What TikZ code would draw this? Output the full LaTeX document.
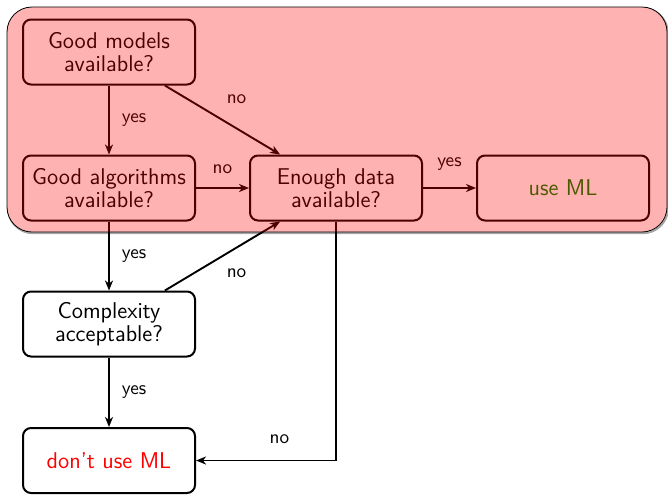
\documentclass[tikz,border=0pt]{standalone}
\usetikzlibrary{arrows.meta}
\begin{document}
\begin{tikzpicture}[x=0.5pt,y=-0.5pt,
  box/.style={draw, line width=1pt, rounded corners=4pt, minimum width=86pt, minimum height=32.5pt,
    align=center, inner sep=0pt, font=\fontsize{11.4}{11.8}\selectfont\sffamily},
  arr/.style={-{Stealth[length=5pt,width=4pt,inset=1.5pt]}, line width=0.95pt},
  lbl/.style={font=\fontsize{9.6}{11}\selectfont\sffamily, inner sep=1pt},
  panel/.style={rounded corners=12.5pt}]
\useasboundingbox (0,0) rectangle (668,494);
% shadow of the highlighted area
\draw[panel, draw=black!35, line width=1pt] (8,8.2) rectangle (668,233.2);
\fill[panel, white] (7,7) rectangle (667,232);
% nodes
\node[box] (gm) at (109,52) {Good models\\available?};
\node[box] (ga) at (109,188) {Good algorithms\\available?};
\node[box] (ed) at (336,188) {Enough data\\available?};
\node[box, text=green!50!black] (use) at (563,188) {use ML};
\node[box] (cx) at (109,324) {Complexity\\acceptable?};
\node[box, text=red] (dont) at (109,460.5) {don't use ML};
% connectors
\draw[arr] (gm) -- node[lbl, right=5pt] {yes} (ga);
\draw[arr] (gm) -- node[lbl, xshift=7pt, yshift=10.25pt] {no} (ed);
\draw[arr] (ga) -- node[lbl, above=5.5pt] {no} (ed);
\draw[arr] (ed) -- node[lbl, above=7.5pt] {yes} (use);
\draw[arr] (ga) -- node[lbl, right=5pt] {yes} (cx);
\draw[arr] (cx) -- node[lbl, xshift=7pt, yshift=-8.75pt] {no} (ed);
\draw[arr] (cx) -- node[lbl, right=5pt] {yes} (dont);
\draw[arr] (ed) |- node[lbl, pos=0.75, above=7pt, xshift=6.75pt] {no} (dont);
% translucent highlight
\draw[panel, fill=red, fill opacity=0.3, line width=0.4pt] (7,7) rectangle (667,232);
\end{tikzpicture}
\end{document}
